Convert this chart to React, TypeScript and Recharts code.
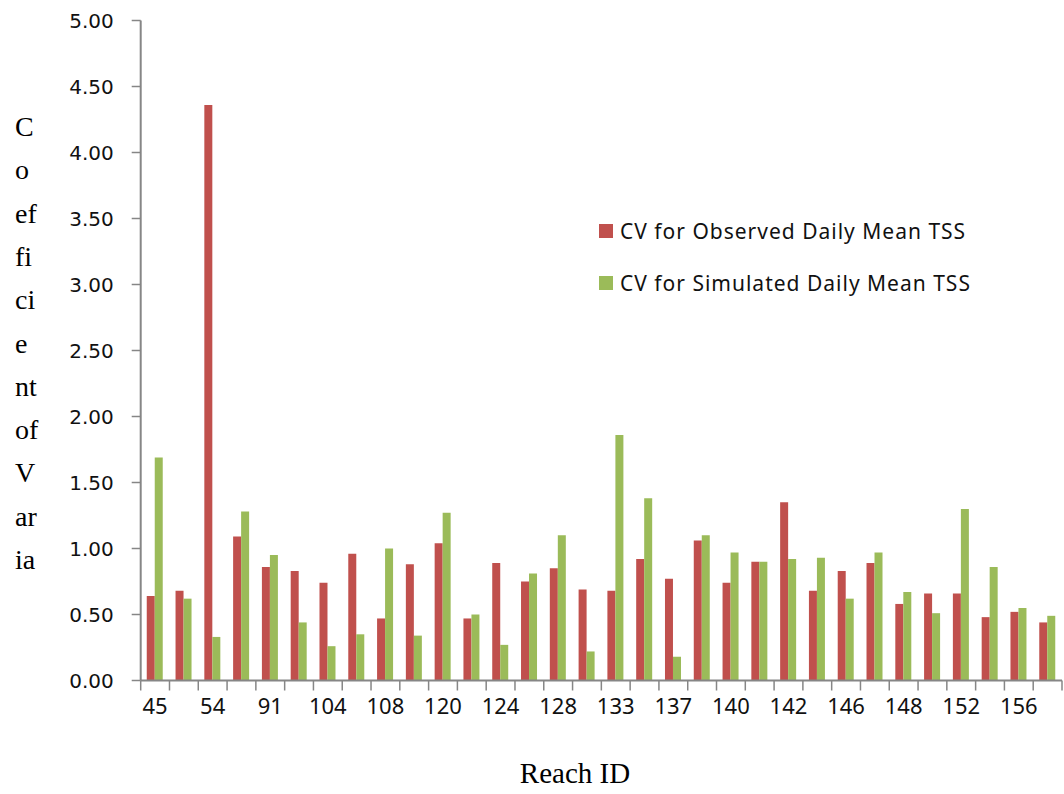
import React from "react";
import { BarChart, Bar, XAxis, YAxis } from "recharts";

const reachIds = ["45","","54","","91","","104","","108","","120","","124","","128","","133","","137","","140","","142","","146","","148","","152","","156",""];
const observed = [0.64,0.68,4.36,1.09,0.86,0.83,0.74,0.96,0.47,0.88,1.04,0.47,0.89,0.75,0.85,0.69,0.68,0.92,0.77,1.06,0.74,0.9,1.35,0.68,0.83,0.89,0.58,0.66,0.66,0.48,0.52,0.44];
const simulated = [1.69,0.62,0.33,1.28,0.95,0.44,0.26,0.35,1.0,0.34,1.27,0.5,0.27,0.81,1.1,0.22,1.86,1.38,0.18,1.1,0.97,0.9,0.92,0.93,0.62,0.97,0.67,0.51,1.3,0.86,0.55,0.49];
const yTicks = [0, 0.5, 1, 1.5, 2, 2.5, 3, 3.5, 4, 4.5, 5];
const yLabelLines = ["C","o","ef","fi","ci","e","nt","of","V","ar","ia"];
const seriesNames = ["CV for Observed Daily Mean TSS", "CV for Simulated Daily Mean TSS"];
const colors = ["#C0504D", "#9BBB59"];

const data = reachIds.map((r, i) => ({ idx: i, reach: r, obs: observed[i], sim: simulated[i] }));

const W = 1064, H = 794;
const M = { top: 20.5, right: 2, bottom: 53.5, left: 60.7 };
const YW = 80, XH = 60;
const plotLeft = M.left + YW;
const plotW = W - M.right - plotLeft;
const band = plotW / data.length;
const axisGray = "#868686";

const XTick = (props: any) => {
  const { x, y, payload, index } = props;
  const label = reachIds[payload.value] ?? "";
  const bx = x - band / 2;
  return (
    <g>
      <line x1={bx} y1={y} x2={bx} y2={y + 10} stroke={axisGray} strokeWidth={1.5} />
      {index === data.length - 1 ? (
        <line x1={x + band / 2} y1={y} x2={x + band / 2} y2={y + 10} stroke={axisGray} strokeWidth={1.5} />
      ) : null}
      {label ? (
        <text x={x} y={y + 33} textAnchor="middle" fontFamily="'Noto Sans', 'Open Sans', sans-serif" fontSize={22} fill="#111">
          {label}
        </text>
      ) : null}
    </g>
  );
};

const YLabel = () => (
  <g>
    {yLabelLines.map((t, i) => (
      <text key={i} x={15} y={136 + i * 43.3} fontFamily="'Liberation Serif', 'Times New Roman', serif" fontSize={28} fill="#000">
        {t}
      </text>
    ))}
  </g>
);

const XLabel = () => (
  <text x={575} y={783} textAnchor="middle" fontFamily="'Liberation Serif', 'Times New Roman', serif" fontSize={29} fill="#000">
    Reach ID
  </text>
);

const LegendBox = () => (
  <div
    style={{
      position: "absolute",
      left: 599,
      top: 217,
      fontFamily: "'Noto Sans', 'Open Sans', sans-serif",
      fontSize: 21,
      letterSpacing: 1,
      color: "#111",
    }}
  >
    {seriesNames.map((n, i) => (
      <div key={i} style={{ display: "flex", alignItems: "center", height: 28, marginBottom: i === 0 ? 24 : 0 }}>
        <div style={{ width: 14, height: 14, background: colors[i], marginRight: 7 }} />
        <span style={{ whiteSpace: "nowrap" }}>{n}</span>
      </div>
    ))}
  </div>
);

export default function App() {
  return (
    <div style={{ position: "absolute", left: 0, top: 0, width: W, height: H, background: "#fff" }}>
      <BarChart width={W} height={H} data={data} margin={M} barCategoryGap="21%" barGap={0}>
        <XAxis
          dataKey="idx"
          type="category"
          height={XH}
          interval={0}
          tickLine={false}
          tickSize={0}
          tickMargin={0}
          tick={<XTick />}
          axisLine={{ stroke: axisGray, strokeWidth: 2 }}
          label={{ content: () => <XLabel /> }}
        />
        <YAxis
          width={YW}
          domain={[0, 5]}
          ticks={yTicks}
          interval={0}
          tickFormatter={(v: number) => v.toFixed(2)}
          tickSize={9}
          tickMargin={18}
          tickLine={{ stroke: axisGray, strokeWidth: 1.5 }}
          axisLine={{ stroke: axisGray, strokeWidth: 2 }}
          tick={{ fontFamily: "'DejaVu Sans', sans-serif", fontSize: 20, fill: "#111" }}
          label={{ content: () => <YLabel /> }}
        />
        <Bar dataKey="obs" name={seriesNames[0]} fill={colors[0]} isAnimationActive={false} />
        <Bar dataKey="sim" name={seriesNames[1]} fill={colors[1]} isAnimationActive={false} />
      </BarChart>
      <LegendBox />
    </div>
  );
}
